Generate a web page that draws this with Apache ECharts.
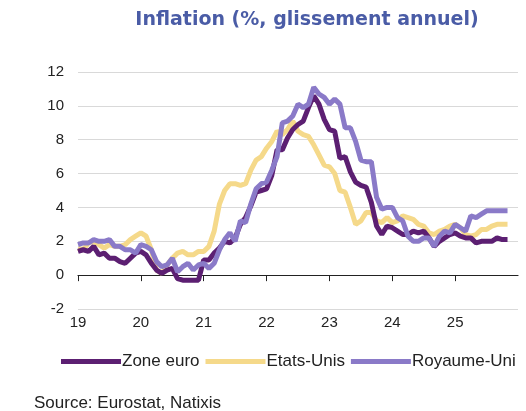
<!DOCTYPE html>
<html>
<head>
<meta charset="utf-8">
<script src="https://cdn.jsdelivr.net/npm/echarts@6/dist/echarts.min.js"></script>
<style>
  html, body { margin: 0; padding: 0; background: #fff; }
  #chart { width: 526px; height: 411px; }
</style>
</head>
<body>
<div id="chart"></div>
<script>
// monthly, Jan 2019 -> Nov 2025
const zoneEuro = [
  1.4, 1.5, 1.4, 1.7, 1.2, 1.3, 1.0, 1.0, 0.8, 0.7, 1.0, 1.3,
  1.4, 1.2, 0.7, 0.3, 0.1, 0.3, 0.4, -0.2, -0.3, -0.3, -0.3, -0.3,
  0.9, 0.9, 1.3, 1.6, 2.0, 1.9, 2.2, 3.0, 3.4, 4.1, 4.9, 5.0,
  5.1, 5.9, 7.4, 7.4, 8.1, 8.6, 8.9, 9.1, 9.9, 10.6, 10.1, 9.2,
  8.6, 8.5, 6.9, 7.0, 6.1, 5.5, 5.3, 5.2, 4.3, 2.9, 2.4, 2.9,
  2.8, 2.6, 2.4, 2.4, 2.6, 2.5, 2.6, 2.2, 1.7, 2.0, 2.2, 2.4,
  2.5, 2.3, 2.2, 2.2, 1.9, 2.0, 2.0, 2.0, 2.2, 2.1, 2.1
];
const etatsUnis = [
  1.6, 1.5, 1.9, 2.0, 1.8, 1.6, 1.8, 1.7, 1.7, 1.8, 2.1, 2.3,
  2.5, 2.3, 1.5, 0.3, 0.1, 0.6, 1.0, 1.3, 1.4, 1.2, 1.2, 1.4,
  1.4, 1.7, 2.6, 4.2, 5.0, 5.4, 5.4, 5.3, 5.4, 6.2, 6.8, 7.0,
  7.5, 7.9, 8.5, 8.3, 8.6, 9.1, 8.5, 8.3, 8.2, 7.7, 7.1, 6.5,
  6.4, 6.0, 5.0, 4.9, 4.0, 3.0, 3.2, 3.7, 3.7, 3.2, 3.1, 3.4,
  3.1, 3.2, 3.5, 3.4, 3.3, 3.0, 2.9, 2.5, 2.4, 2.6, 2.7, 2.9,
  3.0, 2.8, 2.4, 2.3, 2.4, 2.7, 2.7, 2.9, 3.0, 3.0, 3.0
];
const royaumeUni = [
  1.8, 1.9, 1.9, 2.1, 2.0, 2.0, 2.1, 1.7, 1.7, 1.5, 1.5, 1.3,
  1.8, 1.7, 1.5, 0.8, 0.5, 0.6, 1.0, 0.2, 0.5, 0.7, 0.3, 0.6,
  0.7, 0.4, 0.7, 1.5, 2.1, 2.5, 2.0, 3.2, 3.1, 4.2, 5.1, 5.4,
  5.5, 6.2, 7.0, 9.0, 9.1, 9.4, 10.1, 9.9, 10.1, 11.1, 10.7, 10.5,
  10.1, 10.4, 10.1, 8.7, 8.7, 7.9, 6.8, 6.7, 6.7, 4.6, 3.9, 4.0,
  4.0, 3.4, 3.2, 2.3, 2.0, 2.0, 2.2, 2.2, 1.7, 2.3, 2.6, 2.5,
  3.0, 2.8, 2.6, 3.5, 3.4, 3.6, 3.8, 3.8, 3.8, 3.8, 3.8
];
const yearLabels = ["19", "20", "21", "22", "23", "24", "25", "26"];

const toPoints = arr => arr.map((v, i) => [i, v]);

const chart = echarts.init(document.getElementById("chart"));

chart.setOption({
  animation: false,
  textStyle: { fontFamily: "Liberation Sans, Arial, sans-serif" },
  title: {
    text: "Inflation (%, glissement annuel)",
    left: 302,
    top: 6,
    textAlign: "center",
    textStyle: {
      fontFamily: "DejaVu Sans, Verdana, sans-serif",
      fontSize: 19,
      fontWeight: "bold",
      color: "#4a5ca6"
    }
  },
  grid: { left: 78, right: 8, top: 72, bottom: 102 },
  legend: {
    top: 348,
    left: 56,
    itemWidth: 60,
    itemHeight: 5,
    itemGap: 6,
    icon: "rect",
    textStyle: { fontSize: 17, color: "#222", padding: [0, 0, 0, -4] },
    data: ["Zone euro", "Etats-Unis", "Royaume-Uni"]
  },
  graphic: [{
    type: "text",
    left: 34,
    top: 395,
    style: {
      text: "Source: Eurostat, Natixis",
      fontSize: 17,
      fill: "#222",
      fontFamily: "Liberation Sans, Arial, sans-serif"
    }
  }],
  xAxis: {
    type: "value",
    min: 0,
    max: 84,
    interval: 12,
    axisLine: { onZero: true, lineStyle: { color: "#222", width: 1.2 } },
    axisTick: { show: true, length: 6, inside: false, lineStyle: { color: "#222" } },
    axisLabel: {
      fontSize: 15,
      color: "#222",
      margin: 6,
      showMaxLabel: false,
      formatter: v => yearLabels[v / 12]
    },
    splitLine: { show: false }
  },
  yAxis: {
    type: "value",
    min: -2,
    max: 12,
    interval: 2,
    axisLine: { show: false },
    axisTick: { show: false },
    axisLabel: { fontSize: 15, color: "#222", margin: 14 },
    splitLine: { lineStyle: { color: "#d9d9d9", width: 1 } }
  },
  series: [
    {
      name: "Zone euro",
      type: "line",
      z: 3,
      showSymbol: false,
      symbol: "none",
      lineStyle: { width: 5, color: "#5c1f72" },
      itemStyle: { color: "#5c1f72" },
      data: toPoints(zoneEuro)
    },
    {
      name: "Etats-Unis",
      type: "line",
      z: 2,
      showSymbol: false,
      symbol: "none",
      lineStyle: { width: 5, color: "#f5d98a" },
      itemStyle: { color: "#f5d98a" },
      data: toPoints(etatsUnis)
    },
    {
      name: "Royaume-Uni",
      type: "line",
      z: 4,
      showSymbol: false,
      symbol: "none",
      lineStyle: { width: 5, color: "#8a7ac8" },
      itemStyle: { color: "#8a7ac8" },
      data: toPoints(royaumeUni)
    }
  ]
});
</script>
</body>
</html>
